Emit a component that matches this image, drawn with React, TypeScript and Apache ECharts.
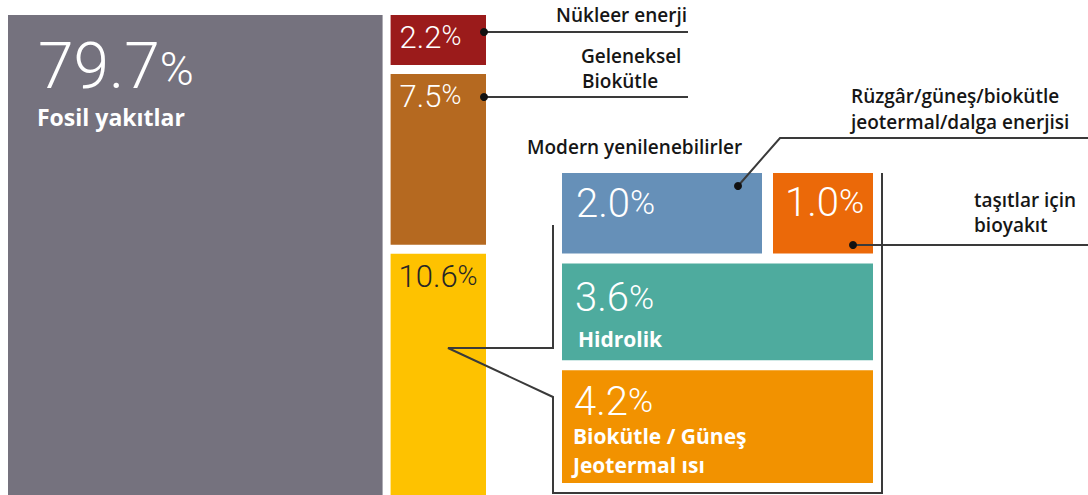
import React, { useEffect, useRef } from "react";
import * as echarts from "echarts";

// ---- data ----
const mainNames = ["Fosil yakıtlar", "Nükleer enerji", "Geleneksel Biokütle", "Modern yenilenebilirler"];
const mainValues = [79.7, 2.2, 7.5, 10.6];
const mainColumn = [0, 1, 1, 1];
const mainInnerLabels: string[][] = [["Fosil yakıtlar"], [], [], []];

const modernNames = [
  "Rüzgâr/güneş/biokütle jeotermal/dalga enerjisi",
  "taşıtlar için bioyakıt",
  "Hidrolik",
  "Biokütle / Güneş Jeotermal ısı",
];
const modernValues = [2.0, 1.0, 3.6, 4.2];
const modernRow = [0, 0, 1, 2];
const modernInnerLabels: string[][] = [[], [], ["Hidrolik"], ["Biokütle / Güneş", "Jeotermal ısı"]];

// ---- styles ----
const mainColors = ["#75727e", "#9b1b1b", "#b56920", "#fec200"];
const modernColors = ["#6690b8", "#eb6909", "#4eab9e", "#f29200"];

type LS = { nF: number; pF: number; dx: number; dy: number; color: string; nameDx: number; nameDy: number[]; nameF: number };
const mainLabelStyles: LS[] = [
  { nF: 64, pF: 46, dx: 30, dy: 51, color: "#ffffff", nameDx: 29, nameDy: [102], nameF: 23 },
  { nF: 31, pF: 27, dx: 9, dy: 22, color: "#ffffff", nameDx: 0, nameDy: [], nameF: 0 },
  { nF: 31, pF: 27, dx: 9, dy: 22, color: "#ffffff", nameDx: 0, nameDy: [], nameF: 0 },
  { nF: 31, pF: 27, dx: 8, dy: 23, color: "#262626", nameDx: 0, nameDy: [], nameF: 0 },
];
const modernLabelStyles: LS[] = [
  { nF: 40, pF: 34, dx: 14, dy: 30, color: "#ffffff", nameDx: 0, nameDy: [], nameF: 0 },
  { nF: 40, pF: 34, dx: 12, dy: 29, color: "#ffffff", nameDx: 0, nameDy: [], nameF: 0 },
  { nF: 40, pF: 34, dx: 13, dy: 34, color: "#ffffff", nameDx: 16, nameDy: [75], nameF: 21 },
  { nF: 40, pF: 34, dx: 12, dy: 31, color: "#ffffff", nameDx: 11, nameDy: [66, 95], nameF: 21 },
];

const NUM_FONT = "Roboto";
const LABEL_FONT = "'Open Sans', 'Noto Sans', sans-serif";
const LINE_COLOR = "#3a3a3a";
const TEXT_COLOR = "#161616";

// slice-and-dice layout in normalized [0,1] units
function sliceDice(values: number[], groups: number[], primary: "x" | "y", gapP: number, gapS: number) {
  const nG = Math.max(...groups) + 1;
  const gSums = new Array(nG).fill(0);
  values.forEach((v, i) => (gSums[groups[i]] += v));
  const total = gSums.reduce((a, b) => a + b, 0);
  const contentP = 1 - gapP * (nG - 1);
  const gStart: number[] = [];
  const gEnd: number[] = [];
  let acc = 0;
  for (let g = 0; g < nG; g++) {
    gStart[g] = acc;
    gEnd[g] = acc + (gSums[g] / total) * contentP;
    acc = gEnd[g] + gapP;
  }
  const out: number[][] = [];
  for (let g = 0; g < nG; g++) {
    const idx = values.map((_, i) => i).filter((i) => groups[i] === g);
    const contentS = 1 - gapS * (idx.length - 1);
    let a = 0;
    idx.forEach((i) => {
      const s0 = a;
      const s1 = a + (values[i] / gSums[g]) * contentS;
      a = s1 + gapS;
      out[i] = primary === "x" ? [gStart[g], gEnd[g], s0, s1] : [s0, s1, gStart[g], gEnd[g]];
    });
  }
  return out;
}

function makeRender(values: number[], colors: string[], styles: LS[], inner: string[][]) {
  return (params: any, api: any) => {
    const i = params.dataIndex;
    const p0 = api.coord([api.value(0), api.value(2)]);
    const p1 = api.coord([api.value(1), api.value(3)]);
    const x = p0[0];
    const y = p0[1];
    const w = p1[0] - p0[0];
    const h = p1[1] - p0[1];
    const s = styles[i];
    const pH = s.nF - 0.684 * (s.nF - s.pF);
    const children: any[] = [
      { type: "rect", shape: { x, y, width: w, height: h }, style: { fill: colors[i] } },
      {
        type: "text",
        x: x + s.dx,
        y: y + s.dy,
        style: {
          text: `{n|${values[i].toFixed(1)}}{p|%}`,
          align: "left",
          verticalAlign: "middle",
          rich: {
            n: { fontSize: s.nF, fontFamily: NUM_FONT, fontWeight: 300, fill: s.color, lineHeight: s.nF * 0.8, verticalAlign: "middle" },
            p: { fontSize: s.pF, fontFamily: NUM_FONT, fontWeight: 300, fill: s.color, lineHeight: pH * 0.8, verticalAlign: "bottom" },
          },
        },
      },
    ];
    inner[i].forEach((t, k) => {
      children.push({
        type: "text",
        x: x + s.nameDx,
        y: y + s.nameDy[k],
        style: {
          text: t,
          fill: "#ffffff",
          fontSize: s.nameF,
          lineHeight: s.nameF,
          fontFamily: LABEL_FONT,
          fontWeight: 700,
          align: "left",
          verticalAlign: "middle",
        },
      });
    });
    return { type: "group", children };
  };
}

function txt(text: string, x: number, y: number, align: string = "left") {
  return {
    type: "text",
    x,
    y,
    z: 20,
    style: {
      text,
      fill: TEXT_COLOR,
      fontSize: 19,
      lineHeight: 19,
      fontFamily: LABEL_FONT,
      fontWeight: 600,
      align,
      verticalAlign: "middle",
      textAlign: align,
      textVerticalAlign: "middle",
    },
  };
}
function dot(x: number, y: number) {
  return { type: "circle", z: 20, shape: { cx: x, cy: y, r: 4 }, style: { fill: "#111111" } };
}
function pl(points: number[][]) {
  return { type: "polyline", z: 19, shape: { points }, style: { stroke: LINE_COLOR, lineWidth: 2, fill: "none" } };
}

export default function App() {
  const ref = useRef<HTMLDivElement>(null);
  useEffect(() => {
    if (!ref.current) return;
    const chart = echarts.init(ref.current, undefined, { renderer: "svg" });
    const mainLayout = sliceDice(mainValues, mainColumn, "x", 8 / 478, 9 / 480);
    const modernLayout = sliceDice(modernValues, modernRow, "y", 10 / 310, 11 / 311);

    const axisCommon = { type: "value", min: 0, max: 1, show: false };
    chart.setOption({
      animation: false,
      backgroundColor: "#ffffff",
      grid: [
        { left: 8, top: 15, width: 478, height: 480 },
        { left: 562, top: 173, width: 311, height: 310 },
      ],
      xAxis: [
        { ...axisCommon, gridIndex: 0 },
        { ...axisCommon, gridIndex: 1 },
      ],
      yAxis: [
        { ...axisCommon, gridIndex: 0, inverse: true },
        { ...axisCommon, gridIndex: 1, inverse: true },
      ],
      series: [
        {
          type: "custom",
          name: "Dünya enerji tüketimi",
          xAxisIndex: 0,
          yAxisIndex: 0,
          clip: false,
          encode: { x: [0, 1], y: [2, 3] },
          data: mainLayout.map((d, i) => ({ name: mainNames[i], value: d })),
          renderItem: makeRender(mainValues, mainColors, mainLabelStyles, mainInnerLabels),
        },
        {
          type: "custom",
          name: "Modern yenilenebilirler",
          xAxisIndex: 1,
          yAxisIndex: 1,
          clip: false,
          encode: { x: [0, 1], y: [2, 3] },
          data: modernLayout.map((d, i) => ({ name: modernNames[i], value: d })),
          renderItem: makeRender(modernValues, modernColors, modernLabelStyles, modernInnerLabels),
        },
      ],
      graphic: [
        pl([[484, 32], [688, 32]]),
        dot(484, 32),
        txt("Nükleer enerji", 687, 15, "right"),
        pl([[484, 97], [688, 97]]),
        dot(484, 97),
        txt("Geleneksel", 581, 56),
        txt("Biokütle", 582, 81),
        txt("Modern yenilenebilirler", 527, 147),
        pl([[738, 186], [780, 138], [1088, 138]]),
        dot(738, 186),
        txt("Rüzgâr/güneş/biokütle", 851, 96),
        txt("jeotermal/dalga enerjisi", 851, 122),
        pl([[853, 245], [1088, 245]]),
        dot(853, 245),
        txt("taşıtlar için", 974, 200),
        txt("bioyakıt", 974, 225),
        pl([[553, 225], [553, 348], [448, 348], [553, 397], [553, 493], [882, 493], [882, 173]]),
      ],
    });
    return () => chart.dispose();
  }, []);
  return <div ref={ref} style={{ position: "fixed", left: 0, top: 0, width: 1088, height: 495 }} />;
}
